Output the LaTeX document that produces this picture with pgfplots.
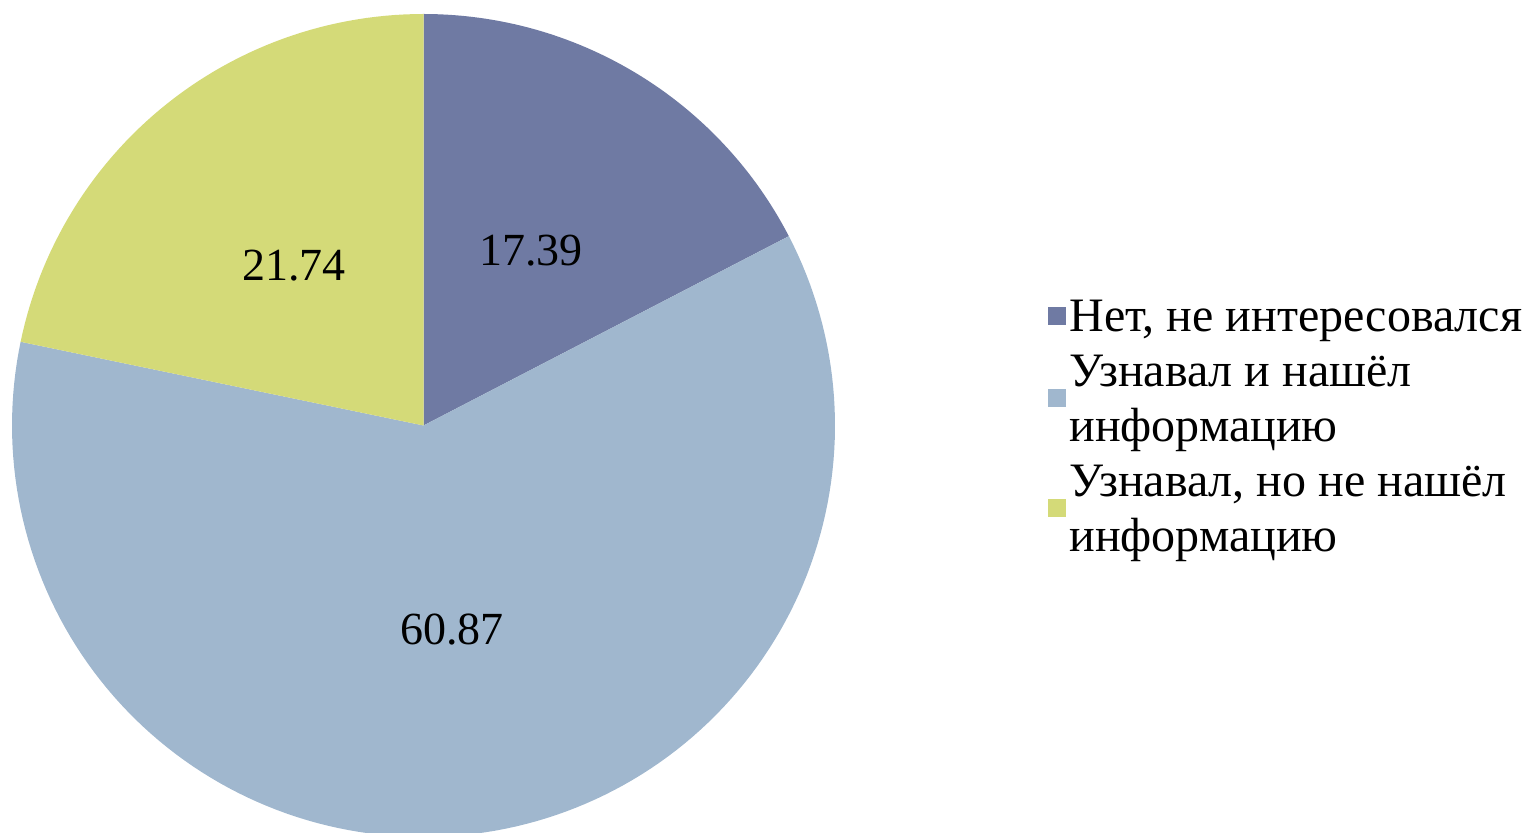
\documentclass[border=0pt]{standalone}
\usepackage{pgfplots}
\pgfplotsset{compat=1.18}
\usepackage{pgfplotstable}
\usepackage{fontspec}
\setmainfont{Liberation Serif}

\definecolor{sliceA}{HTML}{6F7AA3}
\definecolor{sliceB}{HTML}{A0B7CE}
\definecolor{sliceC}{HTML}{D4DA78}

% one legend line: fixed height 27.5pt
\newcommand\ls{\rule[-8.25pt]{0pt}{27.5pt}}
\newcommand\legcell[1]{\renewcommand\arraystretch{0.1}\begin{tabular}{@{}l@{}}#1\end{tabular}}

% shares in percent, clockwise from the top
\pgfplotstableread{
share
17.39
60.87
21.74
}\piedata

\begin{document}
\begin{tikzpicture}
\pgfplotstablegetelem{0}{share}\of\piedata \let\va\pgfplotsretval
\pgfplotstablegetelem{1}{share}\of\piedata \let\vb\pgfplotsretval
\pgfplotstablegetelem{2}{share}\of\piedata \let\vc\pgfplotsretval
\pgfmathsetmacro{\aA}{90}
\pgfmathsetmacro{\aB}{\aA-3.6*\va}
\pgfmathsetmacro{\aC}{\aB-3.6*\vb}
\pgfmathsetmacro{\aD}{\aC-3.6*\vc}
\def\cx{423.5}\def\cy{407.5}\def\r{411.5}
\begin{axis}[
  width=765.5pt, height=416.5pt, scale only axis,
  xmin=0, xmax=1531, ymin=0, ymax=833,
  hide axis,
  legend style={at={(axis cs:1042,544)}, anchor=north west,
    draw=none, fill=none, row sep=0pt, column sep=1.5pt,
    font=\fontsize{24}{27.5}\selectfont,
    nodes={inner sep=0pt, text depth=}},
  legend cell align=left,
  legend image code/.code={\fill[#1] (0pt,-2pt) rectangle (9pt,7pt);},
]
\addplot[fill=sliceA, draw=none, domain=\aB:\aA, samples=60, variable=\t]
  ({\cx+\r*cos(\t)},{\cy+\r*sin(\t)}) -- (axis cs:\cx,\cy) -- cycle;
\addlegendentry{\legcell{\ls Нет, не интересовался}}
\addplot[fill=sliceB, draw=none, domain=\aC:\aB, samples=150, variable=\t]
  ({\cx+\r*cos(\t)},{\cy+\r*sin(\t)}) -- (axis cs:\cx,\cy) -- cycle;
\addlegendentry{\legcell{\ls Узнавал и нашёл\\\ls информацию}}
\addplot[fill=sliceC, draw=none, domain=\aD:\aC, samples=60, variable=\t]
  ({\cx+\r*cos(\t)},{\cy+\r*sin(\t)}) -- (axis cs:\cx,\cy) -- cycle;
\addlegendentry{\legcell{\ls Узнавал, но не нашёл\\\ls информацию}}

\node[font=\fontsize{23}{28}\selectfont, inner sep=0pt] at (axis cs:531,582) {17.39};
\node[font=\fontsize{23}{28}\selectfont, inner sep=0pt] at (axis cs:294,567) {21.74};
\node[font=\fontsize{23}{28}\selectfont, inner sep=0pt] at (axis cs:452,203) {60.87};
\end{axis}
\pgfresetboundingbox
\path[use as bounding box] (0,0) rectangle (765.5pt,416.5pt);
\end{tikzpicture}
\end{document}
